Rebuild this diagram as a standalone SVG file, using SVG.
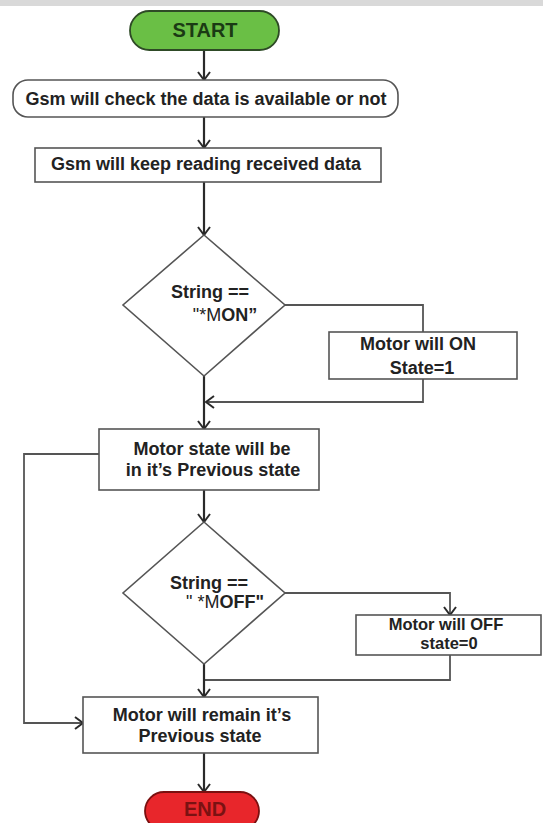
<svg xmlns="http://www.w3.org/2000/svg" width="543" height="823" viewBox="0 0 543 823">
<style>
.box{fill:#fff;stroke:#555;stroke-width:1.6}
.t{font-family:"Liberation Sans",Arial,sans-serif;font-weight:bold;fill:#222;text-anchor:middle;font-size:18px}
.n{font-weight:normal}
.c{fill:none;stroke:#2a2a2a;stroke-width:2.2}
.ca{fill:none;stroke:#2a2a2a;stroke-width:2.2;marker-end:url(#ah)}
.cl{fill:none;stroke:#555;stroke-width:1.8}
</style>
<defs>
<marker id="ah" viewBox="0 0 10 14" refX="9" refY="7" markerWidth="10" markerHeight="14" markerUnits="userSpaceOnUse" orient="auto">
<path d="M1,1 L9,7 L1,13" fill="none" stroke="#2a2a2a" stroke-width="2"/>
</marker>
</defs>
<rect x="0" y="0" width="543" height="6" fill="#d9d9d9"/>
<g id="connectors">
<line class="ca" x1="204" y1="50" x2="204" y2="80"/>
<line class="ca" x1="204" y1="117" x2="204" y2="148"/>
<line class="ca" x1="204" y1="182" x2="204" y2="235"/>
<polyline class="cl" points="285,305 423,305 423,332"/>
<polyline class="cl" points="423,379 423,402 206,402" marker-end="url(#ah)"/>
<line class="ca" x1="204" y1="376" x2="204" y2="429"/>
<line class="ca" x1="204" y1="490" x2="204" y2="522"/>
<polyline class="cl" points="285,593 450,593 450,615" marker-end="url(#ah)"/>
<polyline class="cl" points="450,655 450,680 204,680"/>
<line class="ca" x1="204" y1="664" x2="204" y2="697"/>
<polyline class="cl" points="99,454 24,454 24,723 83,723" marker-end="url(#ah)"/>
<line class="ca" x1="204" y1="753" x2="204" y2="792"/>
</g>
<g id="start">
<rect x="130" y="11" width="149" height="39" rx="19.5" fill="#6abf45" stroke="#2e4a26" stroke-width="1.8"/>
<text class="t" x="205" y="37" style="fill:#1b3a14;font-size:20px">START</text>
</g>
<g id="check">
<rect class="box" x="13" y="80" width="385" height="37" rx="15"/>
<text class="t" x="206" y="105">Gsm will check the data is available or not</text>
</g>
<g id="read">
<rect class="box" x="35" y="148" width="346" height="34"/>
<text class="t" x="206" y="170">Gsm will keep reading received data</text>
</g>
<g id="dec1">
<polygon class="box" points="204,235 285,305 204,376 123,305"/>
<text class="t" x="210" y="298">String ==</text>
<text class="t" x="225" y="321"><tspan class="n">"*M</tspan>ON”</text>
</g>
<g id="on">
<rect class="box" x="329" y="332" width="188" height="47"/>
<text class="t" x="418" y="350">Motor will ON</text>
<text class="t" x="422" y="374">State=1</text>
</g>
<g id="prev1">
<rect class="box" x="99" y="429" width="220" height="61"/>
<text class="t" x="212" y="455">Motor state will be</text>
<text class="t" x="213" y="476">in it’s Previous state</text>
</g>
<g id="dec2">
<polygon class="box" points="204,522 285,593 204,664 123,593"/>
<text class="t" x="209" y="589">String ==</text>
<text class="t" x="225" y="608"><tspan class="n">" *M</tspan>OFF"</text>
</g>
<g id="off">
<rect class="box" x="356" y="615" width="185" height="40"/>
<text class="t" x="446" y="630" style="font-size:16.5px">Motor will OFF</text>
<text class="t" x="449" y="649" style="font-size:16.5px">state=0</text>
</g>
<g id="remain">
<rect class="box" x="83" y="697" width="235" height="56"/>
<text class="t" x="202" y="721">Motor will remain it’s</text>
<text class="t" x="200" y="742">Previous state</text>
</g>
<g id="end">
<rect x="145" y="792" width="114" height="38" rx="19" fill="#e8262b" stroke="#7a1010" stroke-width="1.8"/>
<text class="t" x="205" y="816" style="fill:#7a1212;font-size:20px">END</text>
</g>
</svg>
